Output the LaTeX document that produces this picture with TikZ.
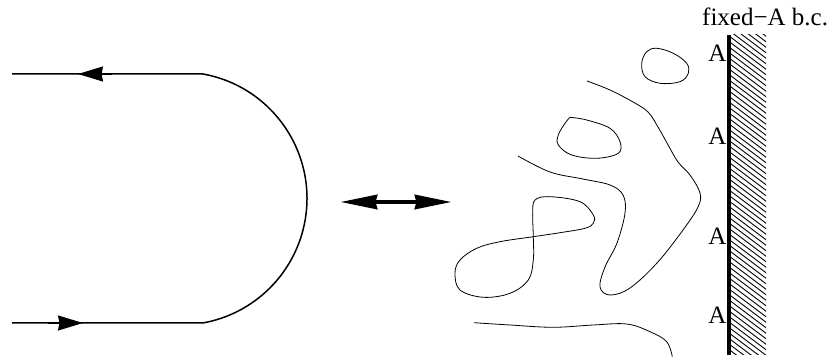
\documentclass[tikz,border=0pt]{standalone}
\usepackage{fontspec}
\setmainfont{Liberation Serif}
\usetikzlibrary{arrows.meta}
\begin{document}
\begin{tikzpicture}[x=1pt,y=1pt,
  thickline/.style={line width=1.5pt},
  loopline/.style={line width=0.8pt, line join=round},
  hatchline/.style={line width=0.9pt},
  wallline/.style={line width=3.2pt},
  lbl/.style={font=\fontsize{25}{30}\selectfont, inner sep=0pt},
  smalltip/.style={-{Stealth[length=25pt,width=15pt,inset=1.5pt]}},
  bigtip/.style={{Stealth[length=37pt,width=14pt,inset=1.5pt]}-{Stealth[length=37pt,width=14pt,inset=1.5pt]}}
  ]
\useasboundingbox (0,0) rectangle (830,361);

% left figure
\coordinate (TL) at (12,287);
\coordinate (TR) at (203,287);
\coordinate (BL) at (12,38);
\coordinate (BR) at (203,38);
\draw[thickline] (TL) -- (TR) arc[start angle=79.75, end angle=-79.75, radius=126.5] -- (BL);
\coordinate (TA1) at (112,287);
\coordinate (TA2) at (78,287);
\coordinate (BA1) at (48,38);
\coordinate (BA2) at (83,38);
\draw[thickline, smalltip] (TA1) -- (TA2);
\draw[thickline, smalltip] (BA1) -- (BA2);

% double arrow
\coordinate (DA1) at (340,159);
\coordinate (DA2) at (452,159);
\draw[line width=4.5pt, bigtip] (DA1) -- (DA2);

% loops
\draw[loopline] plot[smooth cycle, tension=0.6] coordinates {(656.7,312.7) (673.3,307.7) (686.7,297.7) (688.3,287.7) (680,279.3) (660,277.7) (645,284.3) (641.7,297.7) (646.7,309.3)};
\draw[loopline] plot[smooth, tension=0.6] coordinates {(587,280) (610,271) (633,259) (648,249) (658,234) (667,218) (678,199) (690,186) (700,168) (698,154) (683,131) (657,98) (630,73) (610,66) (600,74) (605,94) (617,118) (625,148) (623,166) (610,176) (583,182) (550,189) (518,205)};
\draw[loopline] plot[smooth, tension=0.6] coordinates {(570,243.7) (586.7,241) (610,232.7) (620,219.3) (618.3,207.7) (596.7,202.7) (571.7,206) (558.3,216) (558.3,226) (565,237.7) (570,243.7)};
\draw[loopline] plot[smooth cycle, tension=0.6] coordinates {(533.3,124.3) (532.7,147.7) (535,161) (550,164.3) (580,159.3) (593.3,146) (593.3,137.7) (585,132.7) (560,128.3) (533.3,124.3) (500,119.3) (476.7,112.7) (460,101) (455,87.7) (460,71) (483.3,63.7) (510,67.7) (528.3,81) (533.3,101)};
\draw[loopline] plot[smooth, tension=0.6] coordinates {(474,38.3) (510,36) (553.3,33.7) (593.3,36) (626.7,37) (650,29.3) (666.7,19.3) (672.3,4.3)};

% wall
\begin{scope}
\clip (729,6) rectangle (766,326);
\foreach \k in {0,...,66} \draw[hatchline] (729,6+5.5*\k) -- ++(40,-30);
\end{scope}
\coordinate (W1) at (729,326);
\coordinate (W2) at (729,6);
\draw[wallline] (W1) -- (W2);

% labels
\node[lbl, anchor=base west] (title) at (702,335) {fixed−A b.c.};
\node[lbl, anchor=base east] (A1) at (726.5,299.5) {A};
\node[lbl, anchor=base east] (A2) at (726.5,216) {A};
\node[lbl, anchor=base east] (A3) at (726.5,116) {A};
\node[lbl, anchor=base east] (A4) at (726.5,37) {A};
\end{tikzpicture}
\end{document}
